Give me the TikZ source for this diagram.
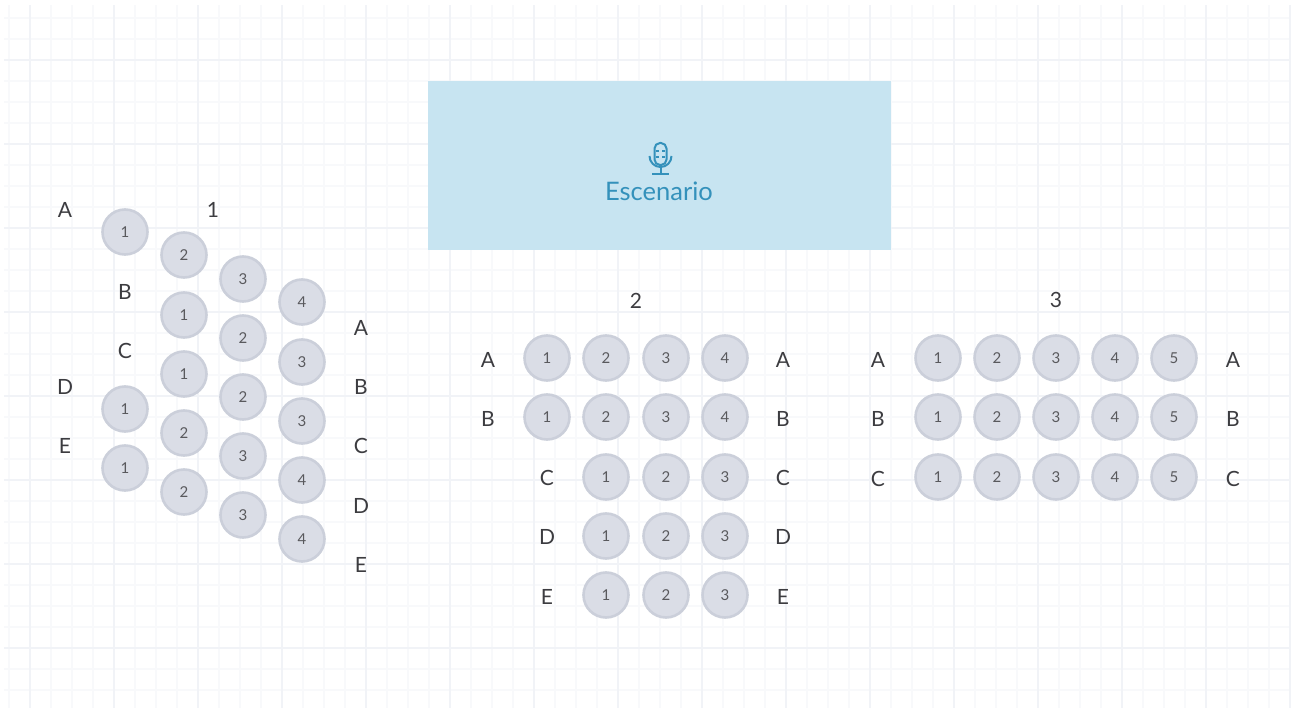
\documentclass[tikz,border=0pt]{standalone}
\usepackage{fontspec}
\setmainfont{Lato}
\definecolor{gridMajor}{RGB}{241, 243, 247}
\definecolor{gridMinor}{RGB}{248, 249, 251}
\definecolor{stageBlue}{RGB}{199, 228, 241}
\definecolor{stageText}{RGB}{52, 145, 187}
\definecolor{seatFill}{RGB}{218, 221, 230}
\definecolor{seatLine}{RGB}{203, 207, 218}
\definecolor{darkGray}{RGB}{60, 60, 64}
\usepackage{tikz}
\usetikzlibrary{positioning}

\begin{document}
\begin{tikzpicture}[
    x=1pt, y=-1pt,
    seat/.style={circle, draw=seatLine, fill=seatFill, line width=2.6pt,
                 minimum size=45pt, inner sep=0pt, text=darkGray!85,
                 font=\fontsize{15}{17}\selectfont},
    rowlabel/.style={text=darkGray, inner sep=0pt, font=\fontsize{21}{25}\selectfont},
    stage/.style={rectangle, fill=stageBlue, minimum width=463pt, minimum height=169pt,
                  inner sep=0pt},
  ]
    \useasboundingbox (0,0) rectangle (1294,708);

    % Paper grid
    \foreach \x in {9,30,...,1290}
      \draw[gridMinor, line width=1.6pt] (\x,5) -- (\x,708);
    \foreach \y in {18,39,...,708}
      \draw[gridMinor, line width=1.6pt] (4,\y) -- (1290,\y);
    \foreach \x in {30,114,...,1290}
      \draw[gridMajor, line width=2.6pt] (\x,5) -- (\x,708);
    \foreach \y in {60,144,...,708}
      \draw[gridMajor, line width=2.6pt] (4,\y) -- (1290,\y);

    % Stage
    \node[stage] (STAGE) at (659.5,165.5) {};
    \node[text=stageText, inner sep=0pt, font=\fontsize{25.5}{30}\selectfont] (STAGELABEL) at (659,191) {Escenario};
    \draw[stageText, line width=2pt, rounded corners=5.5pt] (654.5,143) rectangle (666.5,165);
    \draw[stageText, line width=1.6pt] (656,151) -- (659,151) (662,151) -- (665,151)
                                        (656,157) -- (659,157) (662,157) -- (665,157);
    \draw[stageText, line width=2pt] (649.5,156) arc[start angle=180, end angle=0, radius=11];
    \draw[stageText, line width=2pt] (660.5,167) -- (660.5,173) (652,174) -- (669,174);

    % Block 1
    \node[rowlabel] (L1) at (213,210) {1};
    \foreach \name/\txt/\x/\y in {
        a/A/65/210, b/B/125/292, c/C/125/351, d/D/65/387, e/E/65/446,
        f/A/361/328, g/B/361/387, h/C/361/446, i/D/361/506, j/E/361/565}
      \node[rowlabel] (BL\name) at (\x,\y) {\txt};
    \foreach \name/\txt/\x/\y in {
        a/1/125/232, b/1/125/409, c/1/125/468,
        d/2/184/255, e/1/184/315, f/1/184/374, g/2/184/433, h/2/184/492,
        i/3/243/279, j/2/243/338, k/2/243/397, l/3/243/456, m/3/243/515,
        n/4/302/302, o/3/302/362, p/3/302/421, q/4/302/480, r/4/302/539}
      \node[seat] (B\name) at (\x,\y) {\txt};

    % Block 2
    \node[rowlabel] (L2) at (636,301) {2};
    \foreach \txt/\xl/\y in {A/488/360, B/488/419, C/547/478, D/547/537, E/547/597} {
      \node[rowlabel] (CL\txt) at (\xl,\y) {\txt};
      \node[rowlabel] (CR\txt) at (783,\y) {\txt};
    }
    \foreach \row/\y in {A/358, B/417}
      \foreach \txt/\x in {1/547, 2/606, 3/666, 4/725}
        \node[seat] (C\row\txt) at (\x,\y) {\txt};
    \foreach \row/\y in {C/477, D/536, E/595}
      \foreach \txt/\x in {1/606, 2/666, 3/725}
        \node[seat] (C\row\txt) at (\x,\y) {\txt};

    % Block 3
    \node[rowlabel] (L3) at (1056,300) {3};
    \foreach \row/\y in {A/358, B/417, C/477} {
      \node[rowlabel] (DL\row) at (878,\y+2) {\row};
      \node[rowlabel] (DR\row) at (1233,\y+2) {\row};
      \foreach \txt/\x in {1/938, 2/997, 3/1056, 4/1115, 5/1174}
        \node[seat] (D\row\txt) at (\x,\y) {\txt};
    }
\end{tikzpicture}
\end{document}
